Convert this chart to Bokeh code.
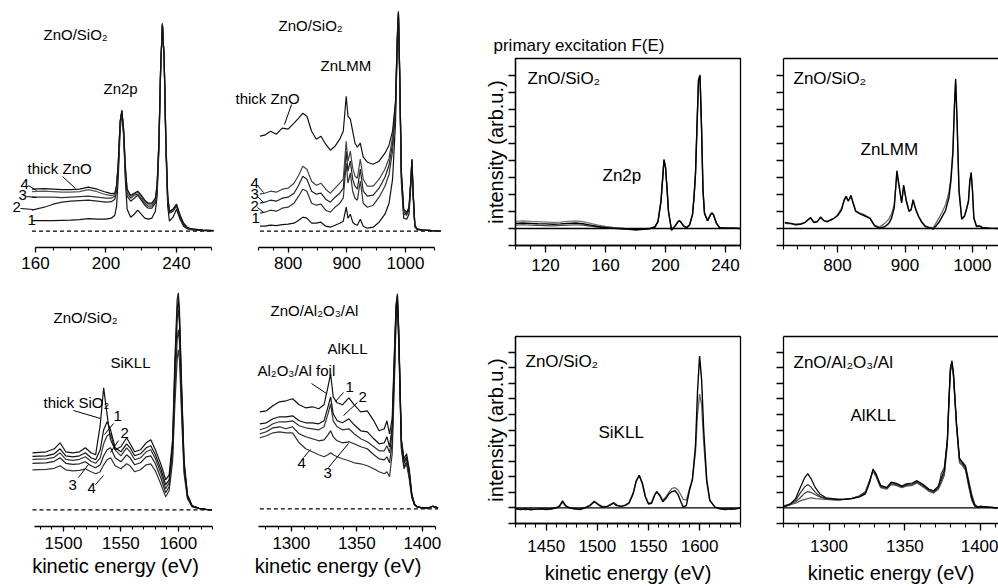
from bokeh.plotting import figure
from bokeh.layouts import row, column
from bokeh.models import Range1d, FixedTicker, Label, Span, LinearAxis
from bokeh.embed import file_html
from bokeh.resources import INLINE

FONT = "Liberation Sans"

# ---------------- data: measured spectra (left column: N(E), right: F(E)) ----------------
# Zn2p, ZnO/SiO2 (top-left)
zn2p_ev = [158, 165, 170, 175, 180, 185, 190, 195, 200,
           203, 205, 206, 207, 208, 209, 210, 211, 212,
           214, 216, 218, 220, 222, 224, 226, 228,
           229, 230, 231, 232, 233, 234, 235, 236,
           238, 240, 242, 244, 246, 248, 250, 255, 261]
zn2p_1 = [10.5, 10.5, 10.5, 10.8, 11, 11.5, 12.5, 12, 12,
          13, 16, 25, 55, 100, 120, 95, 50, 22,
          14, 17, 21, 17, 13, 12, 13, 20,
          35, 80, 160, 208, 170, 80, 25, 10,
          14, 22, 12, 5, 2.5, 1.5, 1, 0.5, 0.3]
zn2p_2 = [21, 24, 27, 29, 30, 30.5, 31, 30, 29,
          29.5, 32, 40, 65, 105, 121, 98, 58, 35,
          30, 33, 36, 31, 26, 23, 23, 28,
          42, 85, 162, 207, 172, 85, 32, 18,
          20, 25, 14, 6, 3, 2, 1.5, 0.8, 0.5]
zn2p_3 = [34, 34, 34, 33.5, 34, 34.5, 35, 34, 33,
          33, 35, 44, 68, 108, 121, 100, 60, 38,
          33, 36, 37, 33, 28, 25, 25, 30,
          44, 87, 163, 207, 172, 87, 34, 19,
          21, 26, 15, 7, 3.5, 2, 1.5, 1, 0.5]
zn2p_4 = [39.5, 40, 39.5, 39, 39, 39.5, 41.5, 39.5, 36.5,
          35.5, 36.5, 45, 69, 109, 120, 101, 63, 41,
          35, 37, 39, 35, 30, 27, 27, 32,
          46, 89, 164, 206, 173, 89, 35, 20,
          22, 26.5, 16, 8, 4, 2.5, 2, 1, 0.5]
zn2p_thick = [42, 42.5, 42, 41.5, 41.5, 42, 44, 42, 39,
              37.5, 38, 46, 70, 110, 120, 102, 64, 42,
              36, 38, 40, 36, 31, 28, 28, 33,
              47, 90, 164, 206, 173, 90, 36, 20,
              22, 27, 16, 8, 4, 2.5, 2, 1, 0.5]

# ZnLMM, ZnO/SiO2 (top, second)
znlmm_ev = [752, 760, 770, 780, 790, 800,
            810, 818, 825, 832, 840, 848, 856, 864,
            872, 880, 888, 894, 899, 902, 906, 910,
            914, 918, 923, 928, 935, 945, 955, 965,
            972, 978, 983, 986, 988, 990, 993, 997,
            1002, 1006, 1009, 1011, 1013, 1016, 1020, 1030,
            1045, 1060]
znlmm_thick = [95, 96, 100, 97, 103, 102,
               108, 113, 118, 115, 100, 92, 95, 87,
               81, 85, 92, 100, 135, 115, 112, 100,
               88, 84, 88, 74, 69, 67, 70, 78,
               86, 100, 130, 195, 220, 165, 60, 22,
               19, 24, 50, 72, 40, 6, 2, 1,
               0.5, 0.3]
znlmm_4 = [37, 38, 40, 39, 42, 43,
           48, 56, 65, 62, 50, 46, 48, 42,
           38, 43, 48, 52, 90, 70, 80, 63,
           55, 53, 72, 52, 45, 45, 52, 62,
           73, 94, 128, 193, 219, 164, 58, 20,
           18, 23, 50, 72, 40, 6, 2, 1,
           0.5, 0.3]
znlmm_3 = [28, 29, 31, 30, 33, 34,
           38, 46, 55, 52, 40, 37, 38, 32,
           29, 34, 38, 43, 80, 60, 70, 52,
           45, 42, 62, 40, 35, 36, 43, 54,
           66, 88, 125, 190, 218, 162, 56, 19,
           17, 22, 49, 71, 39, 6, 2, 1,
           0.5, 0.3]
znlmm_2 = [18, 19, 21, 20, 23, 24,
           28, 35, 42, 40, 28, 26, 27, 21,
           19, 24, 28, 33, 68, 48, 58, 40,
           33, 31, 50, 28, 24, 26, 34, 45,
           57, 80, 120, 187, 217, 160, 54, 17,
           16, 21, 48, 70, 38, 5, 2, 1,
           0.5, 0.3]
znlmm_1 = [5, 5, 6, 5.5, 6.5, 7,
           8, 11, 14, 13, 8, 8, 9, 5,
           4, 6, 8, 10, 24, 13, 17, 9,
           7, 6, 12, 5, 3, 4, 9, 17,
           28, 52, 108, 185, 215, 156, 48, 13,
           12, 17, 44, 67, 34, 4, 1.5, 1,
           0.5, 0.3]

# SiKLL, ZnO/SiO2 (bottom-left)
sikll_ev = [1473, 1485, 1492, 1497, 1502, 1508, 1514, 1519, 1524, 1528,
            1532, 1535, 1538, 1541, 1545, 1550, 1555, 1558, 1562, 1567,
            1572, 1576, 1580, 1585, 1589, 1592, 1595, 1597, 1599, 1600,
            1601, 1603, 1605, 1608, 1612, 1618, 1624, 1629]
sikll_thick = [57, 58, 61, 67, 58, 57, 58, 62, 57, 55,
               85, 122, 95, 70, 60, 63, 72, 66, 58, 60,
               67, 70, 60, 45, 30, 35, 70, 150, 210, 217,
               200, 120, 50, 15, 4, 1.5, 0.5, 0]
sikll_1 = [53.5, 54, 56, 61, 54, 53, 54, 57, 52, 50,
           60, 80, 88, 80, 62, 58, 66, 62, 54, 56,
           62, 64, 55, 40, 25, 30, 65, 140, 200, 210,
           192, 115, 46, 14, 4, 1.5, 0.5, 0]
sikll_2 = [50.5, 51, 52.5, 57, 50.5, 49.5, 50.5, 53, 48.5, 46.5,
           52, 66, 74, 76, 60, 54, 62, 58, 50, 52,
           58, 60, 51, 36, 21, 27, 60, 130, 190, 200,
           185, 110, 44, 13, 4, 1.5, 0.5, 0]
sikll_3 = [46.5, 47, 48.5, 52, 46.5, 45.5, 46, 48, 44, 42,
           45, 54, 60, 62, 52, 48, 55, 52, 45, 47,
           53, 54, 46, 31, 17, 23, 55, 120, 170, 180,
           168, 100, 40, 12, 3.5, 1.5, 0.5, 0]
sikll_4 = [40, 40.5, 41.5, 44, 40, 39, 39.5, 41, 38, 36,
           38, 45, 50, 52, 44, 41, 46, 44, 38, 40,
           45, 46, 39, 25, 13, 19, 48, 105, 150, 160,
           150, 90, 36, 11, 3, 1.5, 0.5, 0]

# AlKLL, ZnO/Al2O3/Al (bottom, second)
alkll_ev = [1276, 1281, 1286, 1291, 1296, 1301, 1306, 1311, 1316, 1321,
            1325, 1328, 1330, 1332, 1335, 1339, 1344, 1348, 1353, 1358,
            1363, 1367, 1371, 1373, 1375, 1377, 1379, 1380, 1381, 1382,
            1384, 1386, 1388, 1390, 1392, 1394, 1396, 1400, 1405, 1408,
            1412]
alkll_foil = [97, 98, 103, 107, 108, 110, 104, 101, 102, 100,
              104, 122, 135, 112, 106, 104, 111, 104, 97, 98,
              88, 78, 80, 88, 75, 90, 170, 205, 215, 180,
              70, 50, 55, 40, 15, 5, 2, 1, 1, 2.5,
              1]
alkll_1 = [85, 86, 90, 92, 92, 93, 88, 86, 86, 85,
           88, 102, 112, 95, 88, 86, 90, 84, 78, 77,
           70, 65, 66, 72, 62, 82, 165, 203, 213, 178,
           68, 47, 52, 37, 14, 5, 2, 1, 1, 2.5,
           1]
alkll_2 = [79, 81, 85, 87, 87, 88, 83, 81, 80, 79,
           82, 95, 105, 88, 82, 79, 80, 75, 70, 67,
           62, 58, 58, 63, 56, 76, 160, 200, 210, 175,
           66, 45, 50, 35, 13, 4, 2, 1, 1, 2.5,
           1]
alkll_3 = [75, 77, 81, 82, 80, 82, 75, 72, 70, 68,
           69, 74, 78, 72, 68, 66, 67, 65, 62, 60,
           54, 50, 49, 52, 46, 66, 150, 195, 205, 170,
           62, 42, 47, 33, 12, 4, 2, 1, 1, 2.5,
           1]
alkll_4 = [71, 73, 76, 77, 76, 76, 66, 60, 57, 54,
           52, 54, 56, 54, 52, 50, 48, 46, 45, 43,
           40, 37, 35, 37, 32, 55, 140, 188, 200, 165,
           60, 40, 45, 30, 11, 4, 2, 1, 1, 2.5,
           1]

# primary excitation F(E): Zn2p
f_zn2p_ev = [100, 105, 110, 115, 120, 125, 130, 135, 140, 145,
             150, 155, 160, 165, 170, 175, 180, 185, 190, 193,
             195, 197, 198, 199, 200, 201, 202, 204, 206, 208,
             209, 210, 212, 214, 216, 218, 219, 220, 221, 222,
             223, 224, 225, 226, 228, 230, 231, 232, 234, 236,
             240, 245, 250]
f_zn2p_a = [0.3, 0.32, 0.3, 0.28, 0.27, 0.25, 0.27, 0.3, 0.32, 0.28,
            0.2, 0.12, 0.06, 0.02, 0, -0.03, -0.07, -0.05, 0, 0.1,
            0.4, 1.6, 2.8, 4.05, 3.6, 2.4, 1.0, -0.1, 0.1, 0.35,
            0.45, 0.4, 0.15, 0.05, 0.2, 0.8, 1.8, 3.2, 6.0, 8.7,
            9.0, 6.0, 2.2, 0.9, 0.45, 0.8, 0.9, 0.8, 0.3, 0.05,
            0.02, 0.02, 0]
f_zn2p_b = [0.42, 0.45, 0.42, 0.4, 0.38, 0.36, 0.38, 0.42, 0.45, 0.4,
            0.3, 0.2, 0.12, 0.06, 0.02, -0.02, -0.05, -0.03, 0.02, 0.12,
            0.45, 1.7, 2.9, 4.0, 3.6, 2.3, 0.95, -0.05, 0.12, 0.38,
            0.48, 0.42, 0.15, 0.05, 0.22, 0.85, 1.9, 3.3, 6.1, 8.8,
            9.05, 6.1, 2.3, 0.9, 0.45, 0.85, 0.95, 0.82, 0.3, 0.05,
            0.02, 0.02, 0]
f_zn2p_c = [0.2, 0.22, 0.2, 0.18, 0.17, 0.16, 0.18, 0.2, 0.22, 0.2,
            0.14, 0.08, 0.03, 0, -0.02, -0.05, -0.08, -0.05, -0.01, 0.08,
            0.4, 1.6, 2.8, 4.05, 3.6, 2.4, 1.0, -0.1, 0.1, 0.35,
            0.45, 0.4, 0.15, 0.05, 0.2, 0.8, 1.8, 3.2, 6.0, 8.7,
            9.0, 6.0, 2.2, 0.9, 0.45, 0.8, 0.9, 0.8, 0.3, 0.05,
            0.02, 0.02, 0]

# primary excitation F(E): ZnLMM
f_znlmm_ev = [722, 731, 738, 745, 752, 760, 765, 770, 775, 780,
              785, 790, 795, 800, 806, 810, 813, 816, 820, 823,
              827, 834, 840, 848, 855, 862, 870, 876, 880, 884,
              888, 891, 895, 898, 902, 906, 909, 912, 916, 920,
              925, 930, 935, 942, 950, 955, 960, 965, 968, 971,
              973, 975, 977, 980, 984, 988, 991, 994, 996, 998,
              1000, 1002, 1006, 1010, 1015, 1025, 1038]
f_znlmm_a = [0.35, 0.3, 0.22, 0.25, 0.35, 0.65, 0.35, 0.4, 0.68, 0.45,
             0.4, 0.5, 0.6, 0.75, 1.1, 1.7, 1.9, 1.6, 1.95, 1.5,
             1.0, 0.85, 0.75, 0.6, 0.15, 0.02, 0.1, 0.3, 0.6, 1.2,
             3.4, 2.6, 1.5, 2.55, 1.6, 1.0, 1.1, 1.7, 1.1, 0.7,
             0.35, 0.12, 0.05, -0.04, 0.35, 0.7, 1.05, 1.8, 2.8, 4.5,
             7.0, 8.8, 6.5, 2.2, 0.55, 0.7, 1.1, 1.6, 2.8, 3.3,
             2.2, 0.6, 0.12, 0.15, 0.05, 0.02, 0.0]
f_znlmm_b = [0.3, 0.28, 0.25, 0.28, 0.38, 0.6, 0.38, 0.42, 0.62, 0.48,
             0.42, 0.52, 0.62, 0.8, 1.2, 1.65, 1.8, 1.65, 1.85, 1.55,
             1.05, 0.9, 0.8, 0.62, 0.2, 0.08, 0.3, 0.55, 0.85, 1.4,
             3.2, 2.5, 1.55, 2.45, 1.65, 1.05, 1.1, 1.6, 1.15, 0.75,
             0.4, 0.15, 0.08, 0.05, 0.6, 0.95, 1.4, 2.1, 3.0, 4.6,
             6.9, 8.6, 6.4, 2.3, 0.6, 0.75, 1.15, 1.65, 2.7, 3.2,
             2.2, 0.65, 0.12, 0.15, 0.05, 0.02, 0.0]

# primary excitation F(E): SiKLL
f_sikll_ev = [1420, 1425, 1430, 1435, 1440, 1445, 1450, 1455, 1460, 1463,
              1466, 1469, 1473, 1478, 1483, 1488, 1493, 1497, 1501, 1505,
              1510, 1513, 1516, 1519, 1523, 1527, 1531, 1535, 1538, 1541,
              1544, 1547, 1550, 1553, 1556, 1558, 1561, 1564, 1567, 1570,
              1573, 1576, 1579, 1582, 1584, 1587, 1590, 1593, 1596, 1598,
              1600, 1602, 1604, 1607, 1610, 1615, 1620, 1625, 1630, 1635,
              1640]
f_sikll_a = [-0.05, -0.1, -0.05, -0.12, -0.08, -0.05, -0.1, -0.05, 0.0, 0.1,
             0.45, 0.15, 0.0, -0.05, -0.1, 0.0, 0.15, 0.4, 0.2, 0.05,
             0.1, 0.2, 0.3, 0.15, 0.1, 0.15, 0.3, 0.9, 1.7, 2.1,
             1.6, 0.7, 0.25, 0.3, 0.8, 1.05, 0.8, 0.4, 0.6, 0.9,
             1.05, 1.1, 0.85, 0.35, 0.05, 0.15, 1.1, 1.8, 4.0, 7.5,
             9.75, 8.2, 5.0, 1.8, 0.5, 0.05, -0.05, -0.1, -0.05, -0.08,
             0.0]
f_sikll_b = [-0.1, -0.05, -0.12, -0.05, -0.1, -0.08, -0.05, -0.1, 0.02, 0.15,
             0.35, 0.1, -0.02, -0.08, -0.05, 0.02, 0.2, 0.45, 0.25, 0.08,
             0.12, 0.25, 0.35, 0.2, 0.12, 0.18, 0.35, 0.95, 1.75, 2.05,
             1.55, 0.75, 0.3, 0.35, 0.85, 1.0, 0.85, 0.5, 0.7, 1.0,
             1.25, 1.3, 1.15, 0.8, 0.55, 0.5, 1.2, 1.9, 3.6, 6.0,
             7.3, 6.6, 4.2, 1.6, 0.45, 0.05, -0.08, -0.05, -0.1, -0.05,
             0.0]

# primary excitation F(E): AlKLL
f_alkll_ev = [1270, 1274, 1278, 1281, 1284, 1286, 1288, 1291, 1294, 1298,
              1302, 1306, 1310, 1315, 1320, 1324, 1327, 1329, 1331, 1334,
              1338, 1341, 1344, 1348, 1351, 1355, 1358, 1362, 1366, 1369,
              1372, 1374, 1376, 1378, 1379, 1380, 1381, 1382, 1384, 1386,
              1388, 1390, 1392, 1394, 1396, 1398, 1400, 1405, 1411]
f_alkll_a = [0.05, 0.2, 0.6, 1.3, 1.95, 2.2, 1.9, 1.3, 0.9, 0.65,
             0.6, 0.55, 0.55, 0.6, 0.7, 0.9, 1.7, 2.5, 2.2, 1.45,
             1.3, 1.65, 1.6, 1.4, 1.55, 1.6, 1.75, 1.5, 1.2, 1.1,
             1.4, 1.9, 2.4, 4.5, 7.0, 9.0, 9.45, 8.7, 5.5, 3.2,
             2.9, 2.6, 1.6, 0.7, 0.15, 0.05, 0.1, 0.05, 0]
f_alkll_b = [0.1, 0.25, 0.5, 0.95, 1.35, 1.5, 1.35, 1.0, 0.75, 0.6,
             0.58, 0.55, 0.55, 0.6, 0.72, 0.95, 1.75, 2.45, 2.1, 1.4,
             1.3, 1.6, 1.55, 1.38, 1.5, 1.55, 1.7, 1.45, 1.15, 1.05,
             1.3, 2.2, 2.6, 4.3, 6.8, 8.9, 9.35, 8.6, 5.4, 3.1,
             2.95, 2.7, 1.8, 0.9, 0.25, 0.05, 0.08, 0.05, 0]
f_alkll_c = [0.1, 0.2, 0.4, 0.65, 0.95, 1.05, 1.0, 0.85, 0.7, 0.6,
             0.55, 0.52, 0.55, 0.62, 0.75, 1.0, 1.8, 2.4, 2.05, 1.35,
             1.25, 1.55, 1.5, 1.35, 1.45, 1.5, 1.65, 1.4, 1.1, 1.0,
             1.25, 1.7, 2.2, 4.2, 6.7, 8.8, 9.3, 8.5, 5.3, 3.0,
             2.8, 2.5, 1.5, 0.6, 0.12, 0.05, 0.1, 0.05, 0]
f_alkll_d = [0.15, 0.2, 0.3, 0.45, 0.55, 0.6, 0.65, 0.6, 0.58, 0.55,
             0.52, 0.5, 0.55, 0.62, 0.78, 1.05, 1.85, 2.35, 2.0, 1.3,
             1.2, 1.5, 1.45, 1.3, 1.4, 1.45, 1.6, 1.35, 1.05, 0.95,
             1.2, 1.6, 2.1, 4.0, 6.5, 8.7, 9.2, 8.4, 5.2, 2.9,
             2.7, 2.4, 1.4, 0.5, 0.1, 0.05, 0.1, 0.05, 0]

# ---------------- tick labels ----------------
t1_major = [160, 200, 240]
t1_minor = list(range(160, 261, 10))
t2_major = [800, 900, 1000]
t2_minor = list(range(750, 1051, 25))
t3_major = [1500, 1550, 1600]
t3_minor = list(range(1480, 1631, 10))
t4_major = [1300, 1350, 1400]
t4_minor = list(range(1280, 1411, 10))
t5_major = [120, 160, 200, 240]
t5_minor = list(range(100, 251, 10))
t6_major = [800, 900, 1000]
t6_minor = list(range(720, 1041, 20))
t7_major = [1450, 1500, 1550, 1600]
t7_minor = list(range(1420, 1641, 10))
t8_major = [1300, 1350, 1400]
t8_minor = list(range(1270, 1411, 10))
y_top_ticks = list(range(-1, 10))
y_bot_ticks = list(range(-1, 11))

XLABEL = "kinetic energy (eV)"
YLABEL = "intensity (arb.u.)"


class Geo:
    def __init__(self, ox, oy, W, H, L, R, T, B, xr, yr):
        self.ox, self.oy, self.W, self.H = ox, oy, W, H
        self.L, self.R, self.T, self.B = L, R, T, B
        self.xr, self.yr = xr, yr

    def d(self, px, py):
        x = self.xr[0] + (px - self.ox - self.L) / (self.R - self.L) * (self.xr[1] - self.xr[0])
        y = self.yr[1] - (py - self.oy - self.T) / (self.B - self.T) * (self.yr[1] - self.yr[0])
        return x, y


def make_fig(g, yaxis):
    p = figure(width=g.W, height=g.H, x_range=Range1d(*g.xr), y_range=Range1d(*g.yr),
               output_backend="svg", toolbar_location=None,
               min_border_left=g.L, min_border_right=g.W - g.R,
               min_border_top=g.T, min_border_bottom=g.H - g.B,
               y_axis_location="left" if yaxis else None)
    try:
        p.frame_align = False
    except Exception:
        pass
    p.grid.visible = False
    p.background_fill_color = "white"
    p.border_fill_color = "white"
    return p


def style_x(p, majors, minors, bounds=None, label=None, tick_out=5, minor_out=3,
            standoff=4, label_standoff=2):
    ax = p.below[0]
    ax.ticker = FixedTicker(ticks=majors, minor_ticks=minors)
    if bounds is not None:
        ax.bounds = bounds
    ax.axis_line_width = 1.3
    ax.major_tick_line_width = 1.3
    ax.minor_tick_line_width = 1.1
    ax.major_tick_in = 0
    ax.major_tick_out = tick_out
    ax.minor_tick_in = 0
    ax.minor_tick_out = minor_out
    ax.major_label_text_font = FONT
    ax.major_label_text_font_size = "17px"
    ax.major_label_text_color = "black"
    ax.major_label_standoff = standoff
    if label:
        ax.axis_label = label
        ax.axis_label_text_font = FONT
        ax.axis_label_text_font_size = "20px"
        ax.axis_label_text_font_style = "normal"
        ax.axis_label_text_color = "black"
        ax.axis_label_standoff = label_standoff


def style_y(p, ticks, label=None):
    ay = p.left[0]
    ay.ticker = FixedTicker(ticks=ticks, minor_ticks=[])
    ay.axis_line_width = 1.3
    ay.major_tick_line_width = 1.3
    ay.major_tick_in = 0
    ay.major_tick_out = 7
    ay.major_label_overrides = {t: "" for t in ticks}
    ay.major_label_standoff = 0
    if label:
        ay.axis_label = label
        ay.axis_label_text_font = FONT
        ay.axis_label_text_font_size = "20px"
        ay.axis_label_text_font_style = "normal"
        ay.axis_label_text_color = "black"
        ay.axis_label_standoff = 2


def lab(p, g, px, py, text, size="15px"):
    x, y = g.d(px, py)
    p.add_layout(Label(x=x, y=y, text=text, text_font=FONT, text_font_size=size,
                       text_baseline="middle", text_align="left", text_color="black"))


def lead(p, g, a, b):
    x0, y0 = g.d(*a)
    x1, y1 = g.d(*b)
    p.line([x0, x1], [y0, y1], line_color="black", line_width=1)


def dashed_base(p, ev):
    p.line([min(ev), max(ev)], [0, 0], line_color="black", line_width=1.3, line_dash="4 3")


def zero_line(p):
    p.add_layout(Span(location=0, dimension="width", line_color="black", line_width=1.3))


def boxed(p, closed_right=True):
    if closed_right:
        p.outline_line_color = "black"
        p.outline_line_width = 1.3
        p.outline_line_alpha = 1
    else:
        p.outline_line_color = None
        top = LinearAxis(ticker=FixedTicker(ticks=[], minor_ticks=[]),
                         axis_line_width=1.3, major_tick_out=0, minor_tick_out=0,
                         major_label_standoff=0)
        p.add_layout(top, "above")


# ---------------- panel 1: Zn2p (N(E)) ----------------
g1 = Geo(0, 0, 230, 290, 2, 228, 5, 247, (141.28, 269.5), (-16.3, 225.7))
p1 = make_fig(g1, False)
p1.outline_line_color = None
style_x(p1, t1_major, t1_minor, bounds=(160, 260), standoff=4)
dashed_base(p1, zn2p_ev)
for ys, c in [(zn2p_1, "#111111"), (zn2p_2, "#222222"), (zn2p_3, "#333333"),
              (zn2p_4, "#555555"), (zn2p_thick, "#111111")]:
    p1.line(zn2p_ev, ys, line_color=c, line_width=1.2)
lab(p1, g1, 43, 34, "ZnO/SiO\u2082")
lab(p1, g1, 103, 88, "Zn2p")
lab(p1, g1, 27, 168, "thick ZnO")
lead(p1, g1, (62, 176), (75, 188))
lab(p1, g1, 20, 183, "4")
lead(p1, g1, (28, 185), (36, 190))
lab(p1, g1, 18, 194, "3")
lead(p1, g1, (26, 196), (36, 197))
lab(p1, g1, 12, 206, "2")
lead(p1, g1, (20, 208), (33, 209))
lab(p1, g1, 27, 219, "1")

# ---------------- panel 2: ZnLMM (N(E)) ----------------
g2 = Geo(230, 0, 250, 290, 3, 212, 5, 247, (706.9, 1063.1), (-16.3, 225.7))
p2 = make_fig(g2, False)
p2.outline_line_color = None
style_x(p2, t2_major, t2_minor, bounds=(750, 1050), standoff=4)
dashed_base(p2, znlmm_ev)
for ys, c in [(znlmm_1, "#111111"), (znlmm_2, "#333333"), (znlmm_3, "#222222"),
              (znlmm_4, "#444444"), (znlmm_thick, "#111111")]:
    p2.line(znlmm_ev, ys, line_color=c, line_width=1.2)
lab(p2, g2, 278, 25, "ZnO/SiO\u2082")
lab(p2, g2, 320, 65, "ZnLMM")
lab(p2, g2, 235, 98, "thick ZnO")
lead(p2, g2, (291, 104), (284, 124))
lab(p2, g2, 250, 182, "4")
lead(p2, g2, (257, 185), (263, 192))
lab(p2, g2, 250, 193, "3")
lead(p2, g2, (257, 196), (263, 202))
lab(p2, g2, 250, 205, "2")
lead(p2, g2, (257, 207), (263, 212))
lab(p2, g2, 251, 217, "1")

# ---------------- panel 5: Zn2p F(E) ----------------
g5 = Geo(480, 0, 280, 290, 35, 260, 58, 245, (100, 250), (-1, 10))
p5 = make_fig(g5, True)
boxed(p5, True)
style_x(p5, t5_major, t5_minor, tick_out=7, minor_out=4, standoff=6)
style_y(p5, y_top_ticks, YLABEL)
zero_line(p5)
p5.line(f_zn2p_ev, f_zn2p_b, line_color="#777777", line_width=1.3)
p5.line(f_zn2p_ev, f_zn2p_c, line_color="#444444", line_width=1.2)
p5.line(f_zn2p_ev, f_zn2p_a, line_color="black", line_width=1.4)
lab(p5, g5, 527, 78, "ZnO/SiO\u2082", "17px")
lab(p5, g5, 602, 175, "Zn2p", "17px")
p5.title.text = "primary excitation F(E)"
p5.title.align = "left"
p5.title.offset = -22
p5.title.standoff = 8
p5.title.text_font = FONT
p5.title.text_font_size = "17px"
p5.title.text_font_style = "normal"
p5.title.text_color = "black"

# ---------------- panel 6: ZnLMM F(E) ----------------
g6 = Geo(760, 0, 238, 290, 23, 238, 58, 245, (720, 1038.5), (-1, 10))
p6 = make_fig(g6, True)
boxed(p6, False)
style_x(p6, t6_major, t6_minor, tick_out=7, minor_out=4, standoff=6)
style_y(p6, y_top_ticks)
zero_line(p6)
p6.line(f_znlmm_ev, f_znlmm_b, line_color="#666666", line_width=1.3)
p6.line(f_znlmm_ev, f_znlmm_a, line_color="black", line_width=1.4)
lab(p6, g6, 793, 78, "ZnO/SiO\u2082", "17px")
lab(p6, g6, 860, 149, "ZnLMM", "17px")

# ---------------- panel 3: SiKLL (N(E)) ----------------
g3 = Geo(0, 290, 230, 298, 2, 228, 2, 236, (1446.9, 1643.7), (-16.7, 217.3))
p3 = make_fig(g3, False)
p3.outline_line_color = None
style_x(p3, t3_major, t3_minor, bounds=(1475, 1630), label=XLABEL, standoff=5, label_standoff=3)
dashed_base(p3, sikll_ev)
for ys, c in [(sikll_4, "#333333"), (sikll_3, "#222222"), (sikll_2, "#333333"),
              (sikll_1, "#111111"), (sikll_thick, "#111111")]:
    p3.line(sikll_ev, ys, line_color=c, line_width=1.2)
lab(p3, g3, 53, 317, "ZnO/SiO\u2082")
lab(p3, g3, 110, 362, "SiKLL")
lab(p3, g3, 43, 402, "thick SiO\u2082")
lead(p3, g3, (73, 410), (100, 418))
lab(p3, g3, 113, 415, "1")
lead(p3, g3, (113, 423), (104, 434))
lab(p3, g3, 120, 432, "2")
lead(p3, g3, (118, 440), (110, 452))
lab(p3, g3, 68, 484, "3")
lead(p3, g3, (78, 477), (88, 464))
lab(p3, g3, 87, 487, "4")
lead(p3, g3, (95, 484), (103, 475))

# ---------------- panel 4: AlKLL (N(E)) ----------------
g4 = Geo(230, 290, 250, 298, 3, 212, 2, 236, (1255.9, 1415.4), (-17.7, 216.3))
p4 = make_fig(g4, False)
p4.outline_line_color = None
style_x(p4, t4_major, t4_minor, bounds=(1275, 1410), label=XLABEL, standoff=5, label_standoff=3)
dashed_base(p4, alkll_ev)
for ys, c in [(alkll_4, "#333333"), (alkll_3, "#222222"), (alkll_2, "#333333"),
              (alkll_1, "#111111"), (alkll_foil, "#111111")]:
    p4.line(alkll_ev, ys, line_color=c, line_width=1.2)
lab(p4, g4, 270, 310, "ZnO/Al\u2082O\u2083/Al")
lab(p4, g4, 327, 348, "AlKLL")
lab(p4, g4, 257, 370, "Al\u2082O\u2083/Al foil")
lead(p4, g4, (311, 383), (326, 393))
lab(p4, g4, 345, 386, "1")
lead(p4, g4, (343, 392), (335, 401))
lab(p4, g4, 358, 396, "2")
lead(p4, g4, (357, 402), (343, 415))
lab(p4, g4, 323, 472, "3")
lead(p4, g4, (328, 467), (348, 443))
lab(p4, g4, 297, 462, "4")
lead(p4, g4, (303, 457), (310, 449))

# ---------------- panel 7: SiKLL F(E) ----------------
g7 = Geo(480, 290, 280, 298, 35, 260, 46, 233, (1420, 1640), (-1, 11))
p7 = make_fig(g7, True)
boxed(p7, True)
style_x(p7, t7_major, t7_minor, label=XLABEL, tick_out=7, minor_out=4, standoff=9, label_standoff=7)
style_y(p7, y_bot_ticks, YLABEL)
zero_line(p7)
p7.line(f_sikll_ev, f_sikll_b, line_color="#666666", line_width=1.3)
p7.line(f_sikll_ev, f_sikll_a, line_color="black", line_width=1.4)
lab(p7, g7, 525, 361, "ZnO/SiO\u2082", "17px")
lab(p7, g7, 598, 432, "SiKLL", "17px")

# ---------------- panel 8: AlKLL F(E) ----------------
g8 = Geo(760, 290, 238, 298, 23, 238, 46, 233, (1270, 1411.7), (-1, 11))
p8 = make_fig(g8, True)
boxed(p8, False)
style_x(p8, t8_major, t8_minor, label=XLABEL, tick_out=7, minor_out=4, standoff=9, label_standoff=7)
style_y(p8, y_bot_ticks)
zero_line(p8)
for ys, c in [(f_alkll_d, "#555555"), (f_alkll_c, "#444444"), (f_alkll_b, "#333333"),
              (f_alkll_a, "black")]:
    p8.line(f_alkll_ev, ys, line_color=c, line_width=1.2)
lab(p8, g8, 793, 362, "ZnO/Al\u2082O\u2083/Al", "17px")
lab(p8, g8, 850, 415, "AlKLL", "17px")

layout = column(row(p1, p2, p5, p6), row(p3, p4, p7, p8))

html = file_html(layout, INLINE)
html = html.replace("<head>", "<head>\n<style>html,body{margin:0;padding:0;overflow:hidden;}</style>", 1)
open("out.html", "w").write(html)
